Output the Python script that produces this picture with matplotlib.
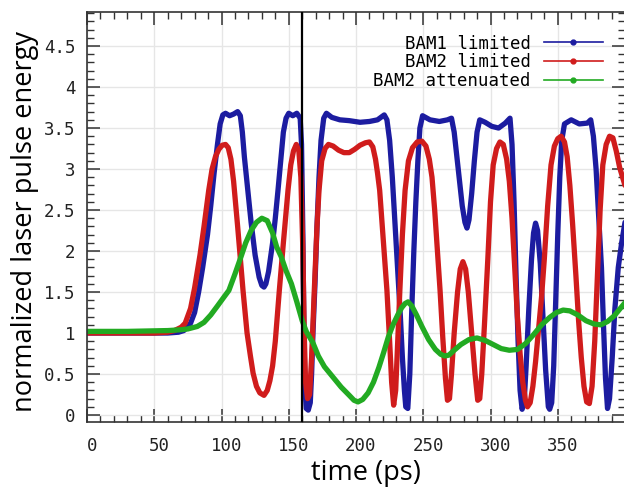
import matplotlib
matplotlib.use('Agg')
import matplotlib.pyplot as plt
import matplotlib.transforms as mtransforms
from matplotlib.lines import Line2D
from matplotlib.ticker import MultipleLocator

# (time in ps, normalized pulse energy)
bam1_pts = [(0, 1.0), (40, 1.0), (60, 1.0), (68, 1.01), (72, 1.03), (77, 1.12), (80, 1.25),
            (83, 1.5), (86, 1.8), (89.6, 2.2), (92, 2.55), (94.5, 2.95), (97, 3.3),
            (99, 3.55), (101, 3.66), (103, 3.68), (106, 3.65), (109, 3.67), (112, 3.7),
            (114, 3.65), (115.5, 3.45), (117, 3.15), (119.6, 2.74), (122, 2.35),
            (125, 1.95), (128, 1.68), (130, 1.58), (131.6, 1.56), (133, 1.6), (135, 1.75),
            (138, 2.1), (140, 2.4), (142, 2.74), (144, 3.1), (146, 3.45), (148, 3.62),
            (150, 3.68), (153, 3.65), (156, 3.68), (158.5, 3.62), (159.5, 3.3),
            (160.5, 2.2), (161.3, 1.0), (162, 0.35), (163, 0.08), (164.5, 0.06),
            (166, 0.15), (167, 0.5), (168, 1.0), (169.5, 1.6), (171, 2.3), (172.5, 2.9),
            (174, 3.35), (176, 3.62), (178, 3.68), (182, 3.63), (188, 3.6), (195, 3.59),
            (203, 3.57), (210, 3.58), (216, 3.6), (221, 3.66), (223, 3.6), (225, 3.35),
            (227, 2.9), (229, 2.34), (231, 1.8), (233, 1.2), (234.5, 0.7), (236, 0.3),
            (237, 0.1), (238.5, 0.08), (240, 0.5), (241.5, 1.3), (243, 2.0), (244.5, 2.6),
            (246, 3.1), (247.5, 3.5), (249.5, 3.65), (255, 3.6), (262, 3.58), (268, 3.6),
            (271, 3.62), (273, 3.45), (275, 3.15), (277, 2.85), (279, 2.55), (281, 2.35),
            (282.5, 2.28), (284, 2.38), (286, 2.7), (288, 3.1), (290, 3.45), (292, 3.6),
            (296, 3.57), (301, 3.52), (306, 3.5), (311, 3.56), (314.5, 3.62), (316, 3.3),
            (317.5, 2.6), (319, 1.7), (320.5, 0.9), (322, 0.3), (323.5, 0.07), (325, 0.15),
            (326.5, 0.6), (328.5, 1.3), (330.5, 1.9), (332, 2.22), (333.5, 2.34),
            (335, 2.25), (337, 1.85), (339, 1.2), (341, 0.55), (343, 0.1), (344, 0.07),
            (345.5, 0.15), (347, 0.6), (348.5, 1.4), (350, 2.2), (351.5, 2.9), (353, 3.35),
            (355, 3.55), (360, 3.6), (366, 3.55), (372, 3.56), (374.5, 3.6), (376.5, 3.4),
            (378.5, 3.0), (380.5, 2.4), (382.5, 1.8), (384, 1.1), (385.5, 0.45),
            (387, 0.08), (388.5, 0.2), (390.5, 0.7), (392.5, 1.3), (395, 1.8),
            (397.5, 2.1), (400, 2.35)]

bam2_pts = [(0, 1.0), (50, 1.0), (60, 1.01), (65, 1.03), (70, 1.07), (73, 1.12), (77, 1.3),
            (80, 1.55), (84, 1.95), (87, 2.3), (90.5, 2.74), (93, 3.0), (95.5, 3.15),
            (98, 3.24), (100.5, 3.29), (103, 3.3), (105, 3.26), (107, 3.12), (109, 2.85),
            (112, 2.3), (116, 1.52), (119, 1.0), (121.5, 0.72), (123.5, 0.51), (126, 0.35),
            (128.5, 0.27), (131.6, 0.24), (134, 0.3), (136, 0.42), (138, 0.6), (140, 0.9),
            (143, 1.52), (146, 2.1), (149.5, 2.75), (151.5, 3.05), (153.5, 3.22),
            (155.6, 3.3), (157.5, 3.22), (159, 2.9), (160.5, 2.0), (161.5, 1.0),
            (162.5, 0.4), (164, 0.2), (165.5, 0.25), (167, 0.7), (169, 1.52), (171, 2.3),
            (172.5, 2.74), (174.5, 3.1), (177, 3.25), (179.5, 3.3), (183, 3.28),
            (187, 3.23), (191, 3.2), (195, 3.2), (199, 3.24), (203, 3.29), (207, 3.32),
            (210, 3.33), (212.5, 3.27), (214.5, 3.12), (216, 2.95), (217.6, 2.74),
            (220, 2.2), (223, 1.52), (225, 0.9), (226.5, 0.4), (228, 0.12), (229.5, 0.3),
            (231, 0.9), (232.6, 1.52), (234.5, 2.2), (236.5, 2.74), (239, 3.1),
            (242, 3.26), (245.5, 3.33), (249, 3.34), (252, 3.28), (254.5, 3.12),
            (256.5, 2.9), (258.5, 2.5), (260.5, 2.0), (262.5, 1.52), (264.5, 0.95),
            (266.5, 0.45), (268, 0.18), (269.5, 0.2), (271, 0.5), (273, 1.0),
            (275.5, 1.5), (277.5, 1.78), (279.5, 1.87), (281.5, 1.78), (283.5, 1.5),
            (286, 1.0), (288.5, 0.5), (290.5, 0.18), (292, 0.2), (293.5, 0.5),
            (295.5, 1.1), (298, 1.9), (300, 2.6), (302, 3.05), (304.5, 3.25), (307, 3.33),
            (309.5, 3.3), (312, 3.12), (314, 2.85), (316, 2.4), (318, 1.8), (320, 1.2),
            (322, 0.75), (324, 0.4), (326, 0.18), (327.5, 0.1), (329.5, 0.15),
            (331.5, 0.35), (333.5, 0.65), (335.5, 1.0), (338, 1.45), (340, 1.9),
            (342.5, 2.55), (345, 3.05), (347.5, 3.28), (350, 3.37), (352.5, 3.4),
            (355, 3.33), (357, 3.15), (359, 2.8), (361, 2.34), (363.5, 1.7),
            (365.5, 1.15), (367.5, 0.7), (369.5, 0.35), (371.5, 0.16), (373.5, 0.14),
            (375.5, 0.35), (377.5, 0.9), (379.5, 1.7), (381.5, 2.5), (383.5, 3.05),
            (386, 3.3), (388.5, 3.4), (391, 3.38), (393.5, 3.22), (396, 3.02),
            (398.5, 2.88), (400, 2.8)]

att_pts = [(0, 1.02), (30, 1.02), (60, 1.03), (70, 1.04), (75, 1.05), (82, 1.08),
           (87, 1.13), (92, 1.22), (97, 1.33), (101, 1.42), (105.5, 1.52), (110, 1.72),
           (114.5, 1.93), (118, 2.1), (122, 2.25), (126, 2.35), (130, 2.4), (134, 2.37),
           (138, 2.22), (141, 2.05), (144.4, 1.93), (148, 1.76), (152, 1.6), (156, 1.38),
           (160, 1.15), (163, 1.02), (168, 0.88), (172, 0.72), (176.5, 0.59), (182, 0.48),
           (189, 0.34), (195, 0.24), (198.5, 0.18), (201.5, 0.16), (205, 0.19),
           (209, 0.27), (213, 0.4), (217, 0.58), (220.5, 0.76), (224, 0.95),
           (227.5, 1.1), (231, 1.22), (234, 1.31), (236.5, 1.36), (238.7, 1.38),
           (241.5, 1.33), (245, 1.22), (249, 1.08), (254, 0.92), (259, 0.8), (263, 0.74),
           (266, 0.72), (269, 0.73), (273, 0.79), (278, 0.86), (284, 0.92), (290, 0.94),
           (296, 0.91), (302, 0.86), (308, 0.81), (314, 0.79), (320, 0.8), (326, 0.87),
           (332, 0.98), (338, 1.1), (344, 1.19), (349, 1.25), (354, 1.28), (359, 1.27),
           (365, 1.22), (371, 1.15), (377, 1.11), (382, 1.1), (387, 1.14), (392, 1.21),
           (396, 1.29), (400, 1.37)]

series_labels = ['BAM1 limited', 'BAM2 limited', 'BAM2 attenuated']
series_colors = ['#1c1ca0', '#d01c1c', '#22aa22']
marker_time = 160

mono = 'DejaVu Sans Mono'

fig = plt.figure(figsize=(6.24, 4.87), dpi=100)
ax = fig.add_axes([87 / 624, 65 / 487, 538 / 624, 410 / 487])

for pts, c in zip([bam1_pts, bam2_pts, att_pts], series_colors):
    t, v = zip(*pts)
    ax.plot(t, v, color=c, lw=3.8, solid_joinstyle='round', solid_capstyle='round')

ax.axvline(marker_time, color='black', lw=1.6, zorder=5)

ax.set_xlim(0, 400)
ax.set_ylim(-0.085, 4.915)
ax.xaxis.set_minor_locator(MultipleLocator(10))
ax.yaxis.set_minor_locator(MultipleLocator(0.1))
xt = list(range(0, 400, 50))
ax.set_xticks(xt)
ax.set_xticklabels([str(x) for x in xt])
yt = [0, 0.5, 1, 1.5, 2, 2.5, 3, 3.5, 4, 4.5]
ax.set_yticks(yt)
ax.set_yticklabels(['%g' % y for y in yt])

ax.tick_params(which='both', direction='in', top=True, right=True, colors='#333333',
               labelcolor='#222222')
ax.tick_params(which='major', length=9.5, width=1.1, labelsize=12.5)
ax.tick_params(which='minor', length=5, width=1.0)
ax.tick_params(axis='y', pad=8.5)
ax.tick_params(axis='x', pad=11)
for lab in ax.get_xticklabels() + ax.get_yticklabels():
    lab.set_family(mono)
offset = mtransforms.ScaledTranslation(5 / 100, 0, fig.dpi_scale_trans)
for lab in ax.get_xticklabels():
    lab.set_transform(lab.get_transform() + offset)

ax.grid(True, which='major', color='#e6e6e6', lw=1.0)
ax.set_axisbelow(True)
for sp in ax.spines.values():
    sp.set_color('#333333')
    sp.set_linewidth(1.2)

ax.set_xlabel('time (ps)', fontsize=19.5, family='Open Sans')
ax.set_ylabel('normalized laser pulse energy', fontsize=19.5, family='Open Sans')
ax.xaxis.set_label_coords(0.519, -0.09)
ax.yaxis.set_label_coords(-0.09, 0.49)

handles = [Line2D([], [], color=c, lw=1.2, marker='o', markersize=3.5) for c in series_colors]
leg = ax.legend(handles, series_labels, loc='upper right', bbox_to_anchor=(0.959, 0.945),
                frameon=False, markerfirst=False, numpoints=1, handlelength=3.4,
                handletextpad=0.75, labelspacing=0.04, borderpad=0, borderaxespad=0,
                prop={'family': mono, 'size': 12.5})

fig.savefig('out.png', dpi=100)
